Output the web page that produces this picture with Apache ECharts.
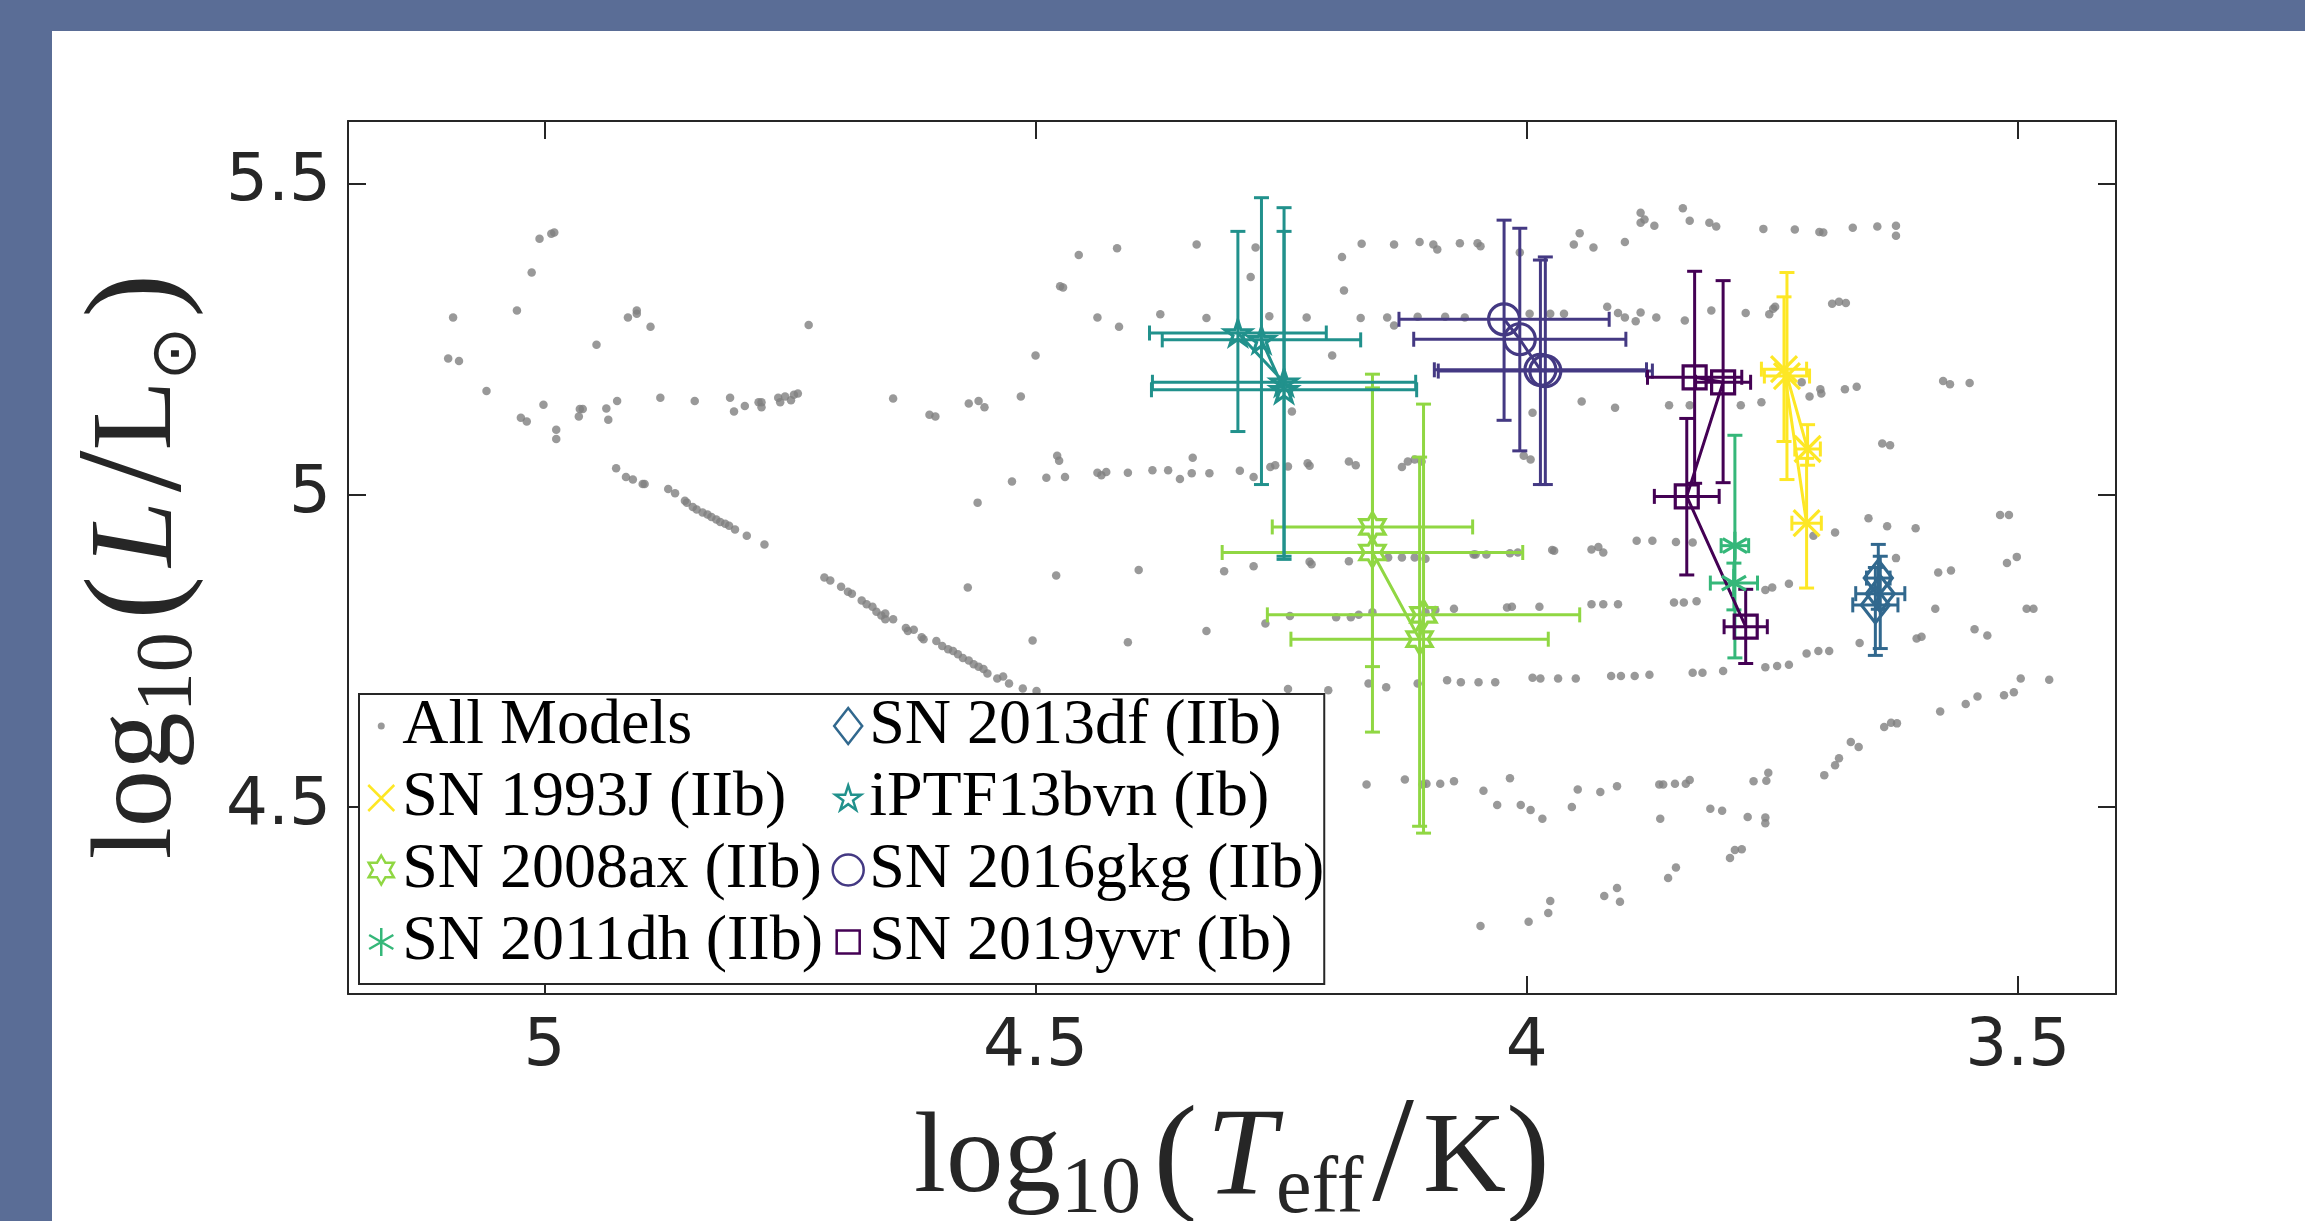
<!DOCTYPE html>
<html>
<head>
<meta charset="utf-8">
<script src="https://cdn.jsdelivr.net/npm/echarts@6/dist/echarts.min.js"></script>
<style>
html,body{margin:0;padding:0;background:#ffffff;}
#chart{width:2305px;height:1221px;}
</style>
</head>
<body>
<div id="chart"></div>
<script>
// ---------------- DATA ----------------
const xTickValues = [3.5, 4, 4.5, 5];
const yTickValues = [4.5, 5, 5.5];

// All models: [log10 Teff, log10 L]
const allModels = [
[5.093,5.285],[5.098,5.219],[5.087,5.215],[5.059,5.167],[5.028,5.296],[5.013,5.357],[5.005,5.411],[4.993,5.419],[4.990,5.421],[5.024,5.124],[5.018,5.118],[5.001,5.145],[4.988,5.105],[4.988,5.090],[4.965,5.126],[4.964,5.138],[4.961,5.138],[4.947,5.241],[4.937,5.139],[4.935,5.121],[4.926,5.151],[4.915,5.285],[4.906,5.296],[4.906,5.291],[4.892,5.270],[4.882,5.156],[4.847,5.151],[4.811,5.156],[4.807,5.134],[4.796,5.143],[4.782,5.149],[4.779,5.149],[4.779,5.141],[4.762,5.156],[4.760,5.149],[4.755,5.158],[4.749,5.152],[4.746,5.161],[4.742,5.163],[4.731,5.273],
[4.927,5.043],[4.917,5.029],[4.910,5.025],[4.900,5.018],[4.898,5.018],[4.874,5.010],[4.867,5.003],[4.857,4.991],[4.855,4.988],[4.849,4.981],[4.845,4.977],[4.839,4.972],[4.834,4.969],[4.830,4.965],[4.825,4.961],[4.821,4.957],[4.816,4.954],[4.812,4.951],[4.806,4.945],[4.794,4.935],[4.776,4.921],
[4.715,4.868],[4.709,4.863],[4.698,4.853],[4.691,4.845],[4.687,4.842],[4.677,4.831],[4.672,4.825],[4.666,4.821],[4.662,4.813],[4.657,4.807],[4.653,4.810],[4.653,4.801],[4.645,4.801],[4.632,4.787],[4.630,4.782],[4.624,4.784],[4.616,4.772],[4.614,4.769],[4.601,4.766],[4.595,4.758],[4.589,4.753],[4.584,4.750],[4.579,4.745],[4.574,4.739],[4.568,4.735],[4.563,4.729],[4.558,4.725],[4.553,4.721],[4.549,4.714],[4.539,4.706],[4.533,4.709],[4.527,4.698],[4.513,4.690],[4.499,4.686],
[4.645,5.155],[4.608,5.129],[4.602,5.126],[4.568,5.147],[4.558,5.151],[4.552,5.141],[4.515,5.158],[4.500,5.224],[4.475,5.335],[4.472,5.333],[4.456,5.385],[4.437,5.285],[4.417,5.396],[4.415,5.270],[4.478,5.063],[4.476,5.055],[4.524,5.022],[4.559,4.988],[4.489,5.028],[4.470,5.029],[4.437,5.036],[4.433,5.032],[4.428,5.037],[4.406,5.036],[4.479,4.871],[4.569,4.852],[4.503,4.767],[4.406,4.764],
[4.336,5.402],[4.276,5.397],[4.281,5.350],[4.188,5.382],[4.186,5.328],[4.168,5.403],[4.135,5.402],[4.109,5.406],[4.095,5.402],[4.091,5.394],[4.068,5.404],[4.050,5.404],[4.047,5.399],[4.007,5.389],[3.952,5.402],[3.946,5.420],[3.932,5.397],[3.900,5.406],[3.884,5.453],[3.884,5.437],[3.880,5.442],[3.870,5.432],[3.841,5.460],[3.834,5.440],[3.814,5.437],[3.807,5.431],[3.759,5.427],[3.727,5.426],[3.702,5.422],[3.698,5.421],[3.668,5.429],[3.643,5.431],[3.624,5.432],[3.624,5.416],
[4.373,5.290],[4.326,5.284],[4.262,5.287],[4.224,5.285],[4.169,5.284],[4.142,5.285],[4.135,5.272],[4.111,5.286],[4.083,5.286],[4.063,5.285],[3.997,5.291],[3.976,5.291],[3.962,5.291],[3.918,5.302],[3.907,5.292],[3.900,5.285],[3.889,5.279],[3.884,5.293],[3.868,5.285],[3.839,5.280],[3.812,5.296],[3.777,5.292],[3.753,5.290],[3.749,5.299],[3.747,5.302],[3.689,5.307],[3.682,5.310],[3.675,5.308],
[4.198,5.224],[4.239,5.134],[3.994,5.132],[3.944,5.150],[3.910,5.140],[3.855,5.144],[3.834,5.144],[3.782,5.144],[3.761,5.149],[3.720,5.181],[3.712,5.158],[3.701,5.170],[3.700,5.163],[3.676,5.170],[3.664,5.174],[3.576,5.183],[3.569,5.178],[3.549,5.180],[3.638,5.083],[3.630,5.080],
[4.381,5.040],[4.365,5.040],[4.353,5.026],[4.341,5.035],[4.323,5.035],[4.292,5.039],[4.278,5.029],[4.261,5.045],[4.256,5.048],[4.243,5.046],[4.223,5.051],[4.221,5.047],[4.181,5.054],[4.174,5.048],[4.127,5.045],[4.121,5.054],[4.114,5.057],[4.107,5.054],[4.340,5.060],[4.003,5.063],[3.996,5.057],
[4.395,4.880],[4.308,4.878],[4.278,4.886],[4.221,4.893],[4.219,4.889],[4.181,4.894],[4.141,4.900],[4.127,4.900],[4.114,4.900],[4.103,4.898],[4.054,4.905],[4.052,4.905],[4.041,4.905],[4.017,4.907],[4.009,4.908],[3.974,4.912],[3.972,4.911],[3.934,4.913],[3.927,4.917],[3.922,4.908],[3.888,4.927],[3.872,4.927],[3.848,4.925],[3.831,4.924],
[3.708,4.935],[3.686,4.940],[3.652,4.963],[3.633,4.950],[3.604,4.947],[3.757,4.848],[3.750,4.852],[3.733,4.858],[3.581,4.876],[3.568,4.879],[3.624,4.899],[3.518,4.968],[3.509,4.968],[3.511,4.891],[3.501,4.901],[3.584,4.818],[3.491,4.818],[3.484,4.818],[3.603,4.770],[3.598,4.773],[3.544,4.785],[3.531,4.775],[3.661,4.763],
[4.326,4.782],[4.266,4.794],[4.241,4.806],[4.194,4.804],[4.179,4.804],[4.171,4.808],[4.157,4.812],[4.103,4.812],[4.093,4.816],[4.074,4.818],[4.020,4.820],[4.015,4.821],[3.987,4.821],[3.934,4.825],[3.922,4.825],[3.907,4.825],[3.850,4.828],[3.840,4.828],[3.827,4.830],
[4.081,4.703],[4.067,4.700],[4.049,4.700],[4.032,4.700],[3.994,4.707],[3.986,4.706],[3.968,4.706],[3.950,4.706],[3.914,4.710],[3.904,4.710],[3.890,4.710],[3.875,4.712],[3.831,4.715],[3.821,4.715],[3.800,4.718],[3.757,4.724],[3.745,4.726],[3.733,4.728],[3.715,4.746],[3.703,4.750],[3.692,4.750],[3.497,4.706],[3.468,4.704],[4.243,4.689],[4.202,4.687],[4.161,4.698],[4.143,4.692],[4.111,4.698],[3.541,4.677],[3.514,4.679],[3.504,4.684],
[3.553,4.665],[3.579,4.653],[3.623,4.634],[3.629,4.635],[3.636,4.628],[3.662,4.596],[3.670,4.604],[3.682,4.578],[3.686,4.567],[3.697,4.551],[3.754,4.555],[3.756,4.542],[3.769,4.541],
[4.163,4.536],[4.124,4.544],[4.106,4.536],[4.102,4.537],[4.088,4.537],[4.074,4.541],[4.044,4.526],[4.017,4.546],[4.030,4.503],[4.006,4.503],[3.996,4.495],[3.984,4.481],[3.954,4.500],[3.948,4.528],[3.925,4.524],[3.908,4.533],[3.865,4.536],[3.861,4.536],[3.849,4.537],[3.838,4.537],[3.834,4.543],[3.864,4.481],[3.813,4.497],[3.801,4.494],[3.775,4.484],[3.757,4.483],[3.757,4.474],
[3.781,4.432],[3.788,4.431],[3.793,4.418],[3.848,4.403],[3.856,4.386],[3.908,4.370],[3.921,4.357],[3.905,4.348],[3.976,4.349],[3.978,4.330],[3.998,4.316],[4.047,4.309]
];

// Supernova progenitors: [log10 Teff, log10 L, Teff err (+/-), L err low, L err high]
const sn1993J = [
  [3.714, 5.074, 0.013, 0.026, 0.039],
  [3.735, 5.191, 0.023, 0.166, 0.166],
  [3.738, 5.202, 0.023, 0.116, 0.116],
  [3.715, 4.955, 0.015, 0.104, 0.104]
];
const sn2008ax = [
  [4.157, 4.949, 0.102, 0.224, 0.223],
  [4.157, 4.908, 0.153, 0.288, 0.286],
  [4.109, 4.769, 0.131, 0.300, 0.292],
  [4.105, 4.808, 0.159, 0.350, 0.338]
];
const sn2011dh = [
  [3.788, 4.919, 0.014, 0.180, 0.177],
  [3.789, 4.859, 0.024, 0.043, 0.032]
];
const sn2013df = [
  [3.642, 4.867, 0.012, 0.050, 0.054],
  [3.640, 4.842, 0.025, 0.088, 0.060],
  [3.645, 4.824, 0.023, 0.081, 0.060]
];
const iptf13bvn = [
  [4.294, 5.260, 0.090, 0.158, 0.163],
  [4.247, 5.181, 0.134, 0.284, 0.280],
  [4.247, 5.169, 0.135, 0.267, 0.254],
  [4.270, 5.249, 0.101, 0.232, 0.228]
];
const sn2016gkg = [
  [4.023, 5.282, 0.107, 0.162, 0.159],
  [4.007, 5.250, 0.108, 0.179, 0.178],
  [3.986, 5.201, 0.108, 0.184, 0.176],
  [3.981, 5.199, 0.109, 0.182, 0.183]
];
const sn2019yvr = [
  [3.829, 5.189, 0.048, 0.170, 0.170],
  [3.800, 5.181, 0.028, 0.161, 0.163],
  [3.837, 4.998, 0.033, 0.126, 0.125],
  [3.777, 4.789, 0.022, 0.059, 0.060]
];

// ---------------- STYLE ----------------
const INK = '#262626';
const BOX = 'M0,0M40,40';      // plot marker frame (40 px)
const LBOX = 'M4,0M36,40';     // legend icon frame (32 x 40 px)
function polyPath(pts){ return pts.map((p,i)=>(i?'L':'M')+p[0].toFixed(2)+','+p[1].toFixed(2)).join('')+'Z'; }
function starPts(n,R,r,cx,cy){ const pts=[]; for(let i=0;i<2*n;i++){ const a=-Math.PI/2+i*Math.PI/n; const rad=(i%2)?r:R; pts.push([cx+rad*Math.cos(a), cy+rad*Math.sin(a)]); } return pts; }
const SHAPE = {
  dot: 'M23.5,20A3.5,3.5,0,1,1,16.5,20A3.5,3.5,0,1,1,23.5,20Z',
  cross: 'M7,7L33,33M33,7L7,33',
  hexagram: polyPath(starPts(6,14.5,8.37,20,20)),
  asterisk: 'M20,6L20,34M7.9,13L32.1,27M7.9,27L32.1,13',
  diamond: 'M20,2L34,20L20,38L6,20Z',
  pentagram: polyPath(starPts(5,13.5,5.16,20,21)),
  circle: 'M35.5,20A15.5,15.5,0,1,1,4.5,20A15.5,15.5,0,1,1,35.5,20Z',
  square: 'M8.5,8.5L31.5,8.5L31.5,31.5L8.5,31.5Z'
};
const sym = k => 'path://' + BOX + SHAPE[k];
const lsym = k => 'path://' + LBOX + SHAPE[k];

const snSets = [
  {name:'SN 1993J (IIb)',   rows: sn1993J,   color:'#fde725', shape:'cross'},
  {name:'SN 2008ax (IIb)',  rows: sn2008ax,  color:'#90d743', shape:'hexagram'},
  {name:'SN 2011dh (IIb)',  rows: sn2011dh,  color:'#35b779', shape:'asterisk'},
  {name:'SN 2013df (IIb)',  rows: sn2013df,  color:'#31688e', shape:'diamond'},
  {name:'iPTF13bvn (Ib)',   rows: iptf13bvn, color:'#21918c', shape:'pentagram'},
  {name:'SN 2016gkg (IIb)', rows: sn2016gkg, color:'#443983', shape:'circle'},
  {name:'SN 2019yvr (Ib)',  rows: sn2019yvr, color:'#440154', shape:'square'}
];

function errorBarRenderer(color){
  return function(params, api){
    const x = api.value(0), y = api.value(1), dx = api.value(2), dlo = api.value(3), dhi = api.value(4);
    const a = api.coord([x - dx, y]), b = api.coord([x + dx, y]);
    const lo = api.coord([x, y - dlo]), hi = api.coord([x, y + dhi]);
    const c = 7.5;
    const st = {stroke: color, lineWidth: 3, fill: null};
    const L = (x1,y1,x2,y2)=>({type:'line', shape:{x1,y1,x2,y2}, style: st});
    return {type:'group', children:[
      L(a[0],a[1],b[0],b[1]),
      L(a[0],a[1]-c,a[0],a[1]+c),
      L(b[0],b[1]-c,b[0],b[1]+c),
      L(lo[0],lo[1],hi[0],hi[1]),
      L(lo[0]-c,lo[1],lo[0]+c,lo[1]),
      L(hi[0]-c,hi[1],hi[0]+c,hi[1])
    ]};
  };
}

const series = [{
  type:'scatter', name:'All Models', data: allModels, symbol:'circle', symbolSize:8.5,
  itemStyle:{color:'#808080'}, z:2, silent:true
}];
snSets.forEach(s => {
  series.push({
    type:'custom', name: s.name + ' err', data: s.rows, encode:{x:0, y:1},
    renderItem: errorBarRenderer(s.color), z:3, silent:true
  });
});
snSets.forEach(s => {
  series.push({
    type:'line', name: s.name, data: s.rows.map(r => [r[0], r[1]]),
    symbol: sym(s.shape), symbolSize: 40, showSymbol: true,
    lineStyle:{color: s.color, width: 3},
    itemStyle:{color:'rgba(0,0,0,0)', borderColor: s.color, borderWidth: 3.2},
    z:4, silent:true
  });
});

const legendData = [{name:'All Models', icon: lsym('dot'), itemStyle:{color:'#808080', borderWidth:0}}]
  .concat(snSets.map(s => ({name: s.name, icon: lsym(s.shape),
    itemStyle:{color:'rgba(0,0,0,0)', borderColor: s.color, borderWidth: 2.5}})));

const serif = 'Liberation Serif';
const nameRich = {
  t:{fontFamily:serif, fontSize:115, lineHeight:140, color:INK},
  i:{fontFamily:serif, fontSize:118, lineHeight:140, fontStyle:'italic', color:INK},
  iT:{fontFamily:serif, fontSize:125, lineHeight:140, fontStyle:'italic', color:INK},
  s:{fontFamily:serif, fontSize:80, lineHeight:62, verticalAlign:'bottom', color:INK},
  sp:{fontFamily:serif, fontSize:50, lineHeight:62, color:INK},
  th:{fontFamily:serif, fontSize:36, lineHeight:62, color:INK},
  sl:{fontFamily:serif, fontSize:150, lineHeight:140, color:INK},
  o:{fontFamily:'DejaVu Sans', fontSize:64, lineHeight:62, verticalAlign:'bottom', color:INK},
  p:{fontFamily:serif, fontSize:132, lineHeight:140, color:INK},
  pe:{fontFamily:serif, fontSize:132, lineHeight:140, color:INK, padding:[0,18,0,0]}
};

const axisLineStyle = {color: INK, width: 2};
const tickLabel = {fontFamily:'DejaVu Sans', fontSize:66, color: INK};

const option = {
  animation:false,
  backgroundColor:'#ffffff',
  graphic:[
    {type:'rect', shape:{x:0, y:0, width:2305, height:31}, style:{fill:'#5a6d96'}, z:100},
    {type:'rect', shape:{x:0, y:0, width:52, height:1221}, style:{fill:'#5a6d96'}, z:100}
  ],
  grid:{left:348, right:189, top:121, bottom:227, containLabel:false, outerBoundsMode:'none'},
  xAxis:[{
    type:'value', min:3.4, max:5.2, inverse:true, position:'bottom',
    name:'{t|log}{s|10}{sp| }{p|(}{th| }{iT|T}{s|eff}{th| }{sl|/}{th| }{t|K}{p|)}', nameLocation:'middle', nameGap:90,
    nameTextStyle:{rich: nameRich},
    axisLine:{show:true, onZero:false, lineStyle: axisLineStyle},
    axisTick:{show:true, inside:true, length:18, customValues: xTickValues, lineStyle: axisLineStyle},
    axisLabel:Object.assign({customValues: xTickValues, margin:21}, tickLabel),
    splitLine:{show:false}
  },{
    type:'value', min:3.4, max:5.2, inverse:true, position:'top',
    axisLine:{show:true, onZero:false, lineStyle: axisLineStyle},
    axisTick:{show:true, inside:true, length:18, customValues: xTickValues, lineStyle: axisLineStyle},
    axisLabel:{show:false}, splitLine:{show:false}
  }],
  yAxis:[{
    type:'value', min:4.2, max:5.6, position:'left',
    name:'{t|log}{s|10}{sp| }{p|(}{th| }{i|L}{th| }{sl|/}{t|L}{o|⊙}{th| }{pe|)}', nameLocation:'middle', nameGap:121, nameRotate:90,
    nameTextStyle:{rich: nameRich},
    axisLine:{show:true, onZero:false, lineStyle: axisLineStyle},
    axisTick:{show:true, inside:true, length:18, customValues: yTickValues, lineStyle: axisLineStyle},
    axisLabel:Object.assign({customValues: yTickValues, margin:17}, tickLabel),
    splitLine:{show:false}
  },{
    type:'value', min:4.2, max:5.6, position:'right',
    axisLine:{show:true, onZero:false, lineStyle: axisLineStyle},
    axisTick:{show:true, inside:true, length:18, customValues: yTickValues, lineStyle: axisLineStyle},
    axisLabel:{show:false}, splitLine:{show:false}
  }],
  legend:{
    orient:'vertical', left:359, top:694, width:1400, height:300,
    padding:[0, 0, 10, 5], itemGap:8, itemWidth:32, itemHeight:40,
    backgroundColor:'#ffffff', borderColor: INK, borderWidth:2, borderRadius:0,
    textStyle:{fontFamily:serif, fontSize:64, color:'#000000', padding:[0,9,0,0]},
    selectedMode:false, z:10,
    data: legendData
  },
  series: series
};

const chart = echarts.init(document.getElementById('chart'), null, {renderer:'canvas'});
chart.setOption(option);
</script>
</body>
</html>
